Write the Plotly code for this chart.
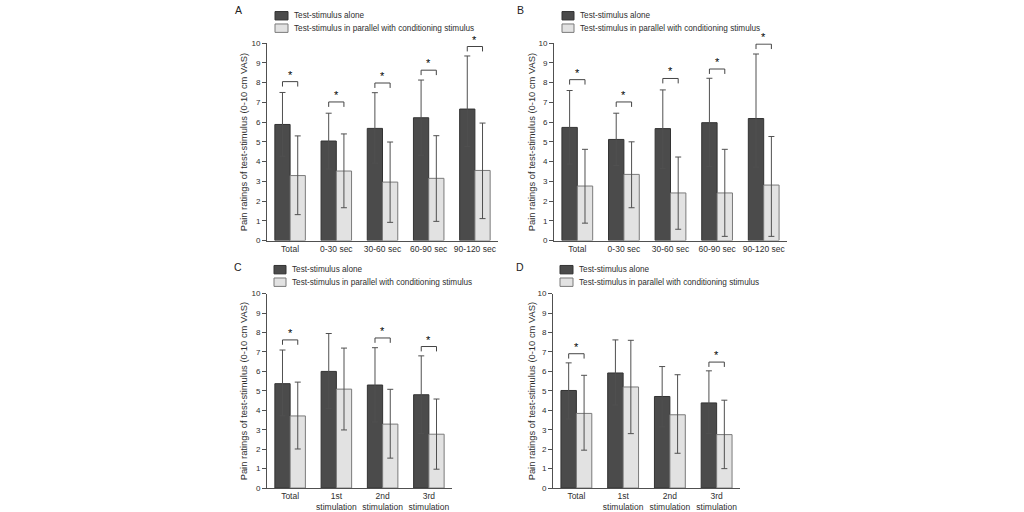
import plotly.graph_objects as go

# ---------------- data ----------------
cats_AB = ["Total", "0-30 sec", "30-60 sec", "60-90 sec", "90-120 sec"]
cats_CD = ["Total", "1st<br>stimulation", "2nd<br>stimulation", "3rd<br>stimulation"]

A_dark = [5.88, 5.04, 5.68, 6.22, 6.66]
A_dark_hi = [7.50, 6.45, 7.49, 8.13, 9.35]
A_dark_lo = [4.27, 3.62, 3.92, 4.32, 4.77]
A_light = [3.29, 3.52, 2.96, 3.15, 3.55]
A_light_hi = [5.30, 5.40, 4.99, 5.31, 5.95]
A_light_lo = [1.31, 1.66, 0.92, 0.97, 1.11]
A_sig = [8.05, 7.02, 7.98, 8.63, 9.83]

B_dark = [5.73, 5.12, 5.67, 5.97, 6.18]
B_dark_hi = [7.60, 6.45, 7.63, 8.22, 9.45]
B_dark_lo = [3.87, 3.80, 3.64, 3.74, 3.72]
B_light = [2.76, 3.35, 2.41, 2.41, 2.81]
B_light_hi = [4.62, 5.00, 4.23, 4.62, 5.27]
B_light_lo = [0.88, 1.66, 0.57, 0.21, 0.21]
B_sig = [8.15, 7.02, 8.21, 8.69, 9.95]

C_dark = [5.37, 6.00, 5.30, 4.80]
C_dark_hi = [7.10, 7.95, 7.22, 6.80]
C_dark_lo = [3.72, 4.09, 3.40, 2.80]
C_light = [3.71, 5.09, 3.29, 2.77]
C_light_hi = [5.45, 7.20, 5.08, 4.58]
C_light_lo = [2.01, 2.99, 1.54, 0.97]
C_sig = [7.62, None, 7.72, 7.28]

D_dark = [5.02, 5.92, 4.71, 4.38]
D_dark_hi = [6.44, 7.62, 6.25, 6.03]
D_dark_lo = [3.55, 4.27, 3.15, 2.80]
D_light = [3.84, 5.20, 3.77, 2.75]
D_light_hi = [5.80, 7.60, 5.83, 4.52]
D_light_lo = [1.95, 2.80, 1.79, 1.00]
D_sig = [6.91, None, None, 6.48]

name_dark = "Test-stimulus alone"
name_light = "Test-stimulus in parallel with conditioning stimulus"
y_title = "Pain ratings of test-stimulus (0-10 cm VAS)"
panel_letters = ["A", "B", "C", "D"]

# ---------------- style ----------------
W, H = 1024, 512
FONT = "Liberation Sans, Arial, Helvetica, sans-serif"
DARK = "#4b4b4b"
DARK_EDGE = "#333333"
LIGHT = "#e2e2e2"
LIGHT_EDGE = "#7a7a7a"
ERR = "#505050"
AXIS = "#505050"
TXT = "#2e2e2e"
BARGAP = 0.34

panels = [
    dict(cats=cats_AB, dark=A_dark, dhi=A_dark_hi, dlo=A_dark_lo,
         light=A_light, lhi=A_light_hi, llo=A_light_lo, sig=A_sig,
         px=(267, 498), py=(40, 241.7), title_x=243.5,
         letter=(238, 6.5), leg_x=(275, 288, 292), leg_y=(12, 24.7)),
    dict(cats=cats_AB, dark=B_dark, dhi=B_dark_hi, dlo=B_dark_lo,
         light=B_light, lhi=B_light_hi, llo=B_light_lo, sig=B_sig,
         px=(554, 787), py=(40, 241.7), title_x=531.5,
         letter=(520, 6.5), leg_x=(562, 574, 578), leg_y=(12, 24.7)),
    dict(cats=cats_CD, dark=C_dark, dhi=C_dark_hi, dlo=C_dark_lo,
         light=C_light, lhi=C_light_hi, llo=C_light_lo, sig=C_sig,
         px=(267, 452), py=(296, 494.7), title_x=243.5,
         letter=(238, 268.5), leg_x=(274, 286, 289.5), leg_y=(271.5, 284.3)),
    dict(cats=cats_CD, dark=D_dark, dhi=D_dark_hi, dlo=D_dark_lo,
         light=D_light, lhi=D_light_hi, llo=D_light_lo, sig=D_sig,
         px=(553, 740), py=(296, 494.7), title_x=531.5,
         letter=(520, 268.5), leg_x=(560, 573, 577), leg_y=(271.5, 284.3)),
]

def fx(p):
    return p / W

def fy(p):
    return 1 - p / H

fig = go.Figure()
shapes = []
annotations = []
layout_axes = {}

for k, P in enumerate(panels):
    n = k + 1
    xa = "x" if n == 1 else f"x{n}"
    ya = "y" if n == 1 else f"y{n}"
    cats = P["cats"]
    fig.add_trace(go.Bar(
        x=cats, y=P["dark"], name=name_dark, xaxis=xa, yaxis=ya,
        offsetgroup="dark", showlegend=False,
        marker=dict(color=DARK, line=dict(color=DARK_EDGE, width=1)),
        error_y=dict(type="data", symmetric=False,
                     array=[h - v for h, v in zip(P["dhi"], P["dark"])],
                     arrayminus=[v - l for v, l in zip(P["dark"], P["dlo"])],
                     color=ERR, thickness=1, width=3),
    ))
    fig.add_trace(go.Bar(
        x=cats, y=P["light"], name=name_light, xaxis=xa, yaxis=ya,
        offsetgroup="light", showlegend=False,
        marker=dict(color=LIGHT, line=dict(color=LIGHT_EDGE, width=1)),
        error_y=dict(type="data", symmetric=False,
                     array=[h - v for h, v in zip(P["lhi"], P["light"])],
                     arrayminus=[v - l for v, l in zip(P["light"], P["llo"])],
                     color=ERR, thickness=1, width=3),
    ))

    xkey = "xaxis" if n == 1 else f"xaxis{n}"
    ykey = "yaxis" if n == 1 else f"yaxis{n}"
    layout_axes[xkey] = dict(
        domain=[fx(P["px"][0]), fx(P["px"][1])], anchor=ya,
        type="category", range=[-0.5, len(cats) - 0.5],
        showline=True, linecolor=AXIS, linewidth=1, ticks="",
        showgrid=False, zeroline=False,
        tickfont=dict(family=FONT, size=8.5, color=TXT),
    )
    layout_axes[ykey] = dict(
        domain=[fy(P["py"][1]), fy(P["py"][0])], anchor=xa,
        range=[0, 10], dtick=1, tick0=0,
        showline=True, linecolor=AXIS, linewidth=1,
        ticks="outside", ticklen=4, tickwidth=1, tickcolor=AXIS,
        showgrid=False, zeroline=False,
        tickfont=dict(family=FONT, size=8, color=TXT),
    )

    # significance brackets and stars
    half = (1 - BARGAP) / 4
    for i, h in enumerate(P["sig"]):
        if h is None:
            continue
        x0, x1 = i - half, i + half
        shapes.append(dict(
            type="path", xref=xa, yref=ya,
            path=f"M {x0},{h - 0.25} L {x0},{h} L {x1},{h} L {x1},{h - 0.25}",
            line=dict(color="#444444", width=1),
        ))
        annotations.append(dict(
            x=i, y=h, xref=xa, yref=ya, text="*", showarrow=False,
            yanchor="bottom", yshift=-1,
            font=dict(family=FONT, size=11, color="#000000"),
        ))

    # y-axis title
    annotations.append(dict(
        x=fx(P["title_x"]), y=fy((P["py"][0] + P["py"][1]) / 2),
        xref="paper", yref="paper", text=y_title, textangle=-90,
        showarrow=False, xanchor="center", yanchor="middle",
        font=dict(family=FONT, size=9.4, color=TXT),
    ))
    # panel letter
    annotations.append(dict(
        x=fx(P["letter"][0]), y=fy(P["letter"][1]), xref="paper", yref="paper",
        text=panel_letters[k], showarrow=False, xanchor="center", yanchor="middle",
        font=dict(family=FONT, size=10.5, color="#222222"),
    ))
    # legend (drawn per panel)
    lx0, lx1, ltx = P["leg_x"]
    for (cy, fill, edge, label) in [
        (P["leg_y"][0], DARK, DARK_EDGE, name_dark),
        (P["leg_y"][1], LIGHT, LIGHT_EDGE, name_light),
    ]:
        shapes.append(dict(
            type="rect", xref="paper", yref="paper",
            x0=fx(lx0), x1=fx(lx1), y0=fy(cy + 4.3), y1=fy(cy - 4.3),
            fillcolor=fill, line=dict(color=edge, width=1),
        ))
        annotations.append(dict(
            x=fx(ltx), y=fy(cy), xref="paper", yref="paper", text=label,
            showarrow=False, xanchor="left", yanchor="middle",
            font=dict(family=FONT, size=8.2, color=TXT),
        ))

fig.update_layout(
    width=W, height=H, margin=dict(l=0, r=0, t=0, b=0),
    paper_bgcolor="white", plot_bgcolor="white",
    barmode="group", bargap=BARGAP, bargroupgap=0,
    showlegend=False, shapes=shapes, annotations=annotations,
    font=dict(family=FONT, color=TXT),
    **layout_axes,
)

fig.write_html("out.html")
